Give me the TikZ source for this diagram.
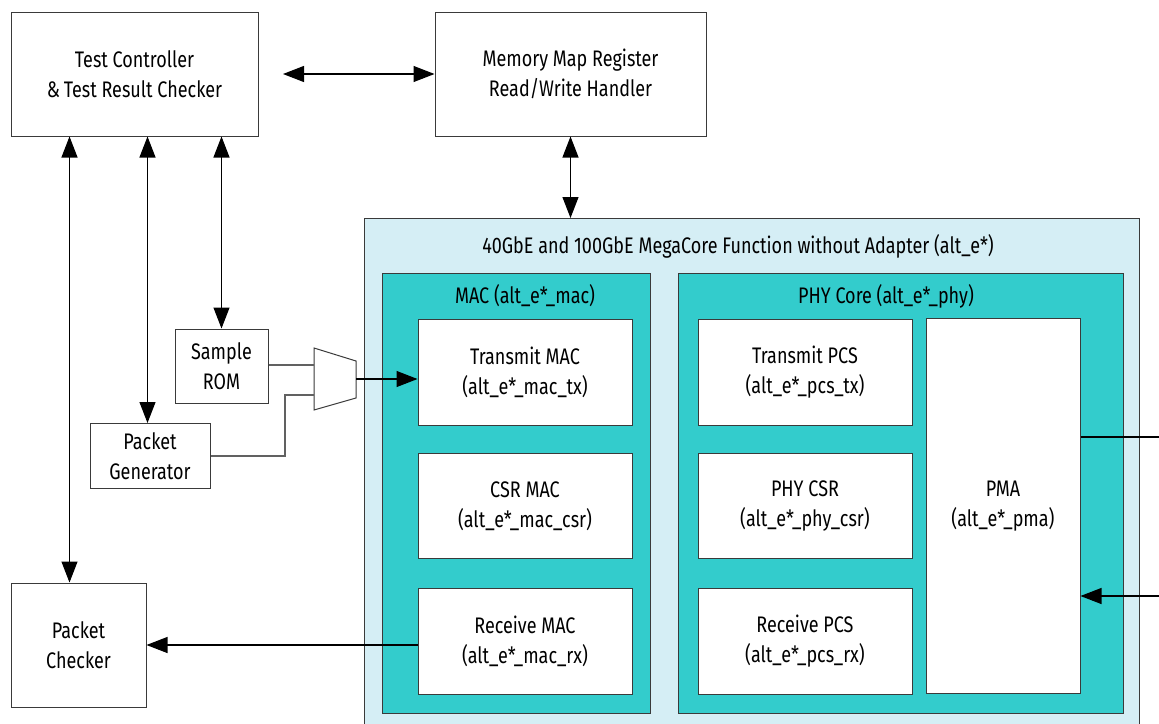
\documentclass[tikz,border=0pt]{standalone}
\usepackage{fontspec}
\setmainfont{Fira Sans}[FakeStretch=0.8]
\usetikzlibrary{arrows.meta}
\definecolor{lightblu}{HTML}{D5EEF5}
\definecolor{teal2}{HTML}{33CCCC}
\definecolor{edge}{HTML}{3A3A3A}
\tikzset{
  blk/.style={draw=edge,fill=white,line width=1pt,align=center,inner sep=0pt,
    font=\fontsize{22.5}{30}\selectfont},
  wire/.style={draw=edge!80,line width=1.2pt},
  arr/.style={line width=1.1pt,-{Triangle[length=21pt,width=16pt]}},
  dbl/.style={line width=1.1pt,{Triangle[length=21pt,width=16pt]}-{Triangle[length=21pt,width=16pt]}},
  ttl/.style={font=\fontsize{22.5}{30}\selectfont}
}
\begin{document}
\begin{tikzpicture}[x=1pt,y=-1pt]
  \useasboundingbox (0,0) rectangle (1159,723);
  % outer core and its two sub blocks
  \filldraw[fill=lightblu,draw=edge,line width=1pt] (364,218) rectangle (1139,740);
  \node[ttl] (ttlcore) at (738,246) {40GbE and 100GbE MegaCore Function without Adapter (alt\_e*)};
  \filldraw[fill=teal2,draw=edge,line width=1pt] (382,273) rectangle (650,713);
  \node[ttl] (ttlmac) at (525,296) {MAC (alt\_e*\_mac)};
  \filldraw[fill=teal2,draw=edge,line width=1pt] (678,273) rectangle (1123,713);
  \node[ttl] (ttlphy) at (886,296) {PHY Core (alt\_e*\_phy)};
  \coordinate (core) at (570.5,218);
  % blocks
  \node[blk,minimum width=247pt,minimum height=124pt] (tc) at (134.5,74) {Test Controller\\\&\,Test Result Checker};
  \node[blk,minimum width=271pt,minimum height=124pt] (mm) at (570.5,74) {Memory Map Register\\Read/Write Handler};
  \node[blk,minimum width=93pt,minimum height=74pt] (rom) at (221.5,366) {Sample\\ROM};
  \node[blk,minimum width=120pt,minimum height=65pt] (gen) at (150,456) {Packet\\Generator};
  \node[blk,minimum width=135pt,minimum height=124pt] (pc) at (78.5,645) {Packet\\Checker};
  \node[blk,minimum width=214pt,minimum height=106pt] (txmac) at (525,372) {Transmit MAC\\(alt\_e*\_mac\_tx)};
  \node[blk,minimum width=214pt,minimum height=105pt] (csrmac) at (525,506) {CSR MAC\\(alt\_e*\_mac\_csr)};
  \node[blk,minimum width=214pt,minimum height=106pt] (rxmac) at (525,641) {Receive MAC\\(alt\_e*\_mac\_rx)};
  \node[blk,minimum width=214pt,minimum height=106pt] (txpcs) at (805,372) {Transmit PCS\\(alt\_e*\_pcs\_tx)};
  \node[blk,minimum width=214pt,minimum height=105pt] (phycsr) at (805,506) {PHY CSR\\(alt\_e*\_phy\_csr)};
  \node[blk,minimum width=214pt,minimum height=106pt] (rxpcs) at (805,641) {Receive PCS\\(alt\_e*\_pcs\_rx)};
  \node[blk,minimum width=154pt,minimum height=375pt] (pma) at (1003,506) {PMA\\(alt\_e*\_pma)};
  % mux
  \coordinate (mi1) at (314,365);
  \coordinate (mi2) at (314,395);
  \coordinate (mo) at (356,379);
  \filldraw[fill=white,draw=edge,line width=1pt] (314,348) -- (356,361) -- (356,398) -- (314,410) -- cycle;
  \draw[wire] (rom.east |- mi1) -- (mi1);
  \draw[wire] (gen.east) -| (285,395) -- (mi2);
  \draw[arr] (mo) -- (txmac.west |- mo);
  % connectors
  \coordinate (tcr) at (283,74);
  \draw[dbl] (tcr) -- (mm.west);
  \draw[dbl] (mm.south) -- (core);
  \draw[dbl] ([xshift=59pt]tc.south west) -- ([xshift=59pt]pc.north west);
  \draw[dbl] ([xshift=137pt]tc.south west) -- ([xshift=58pt]gen.north west);
  \draw[dbl] ([xshift=211pt]tc.south west) -- ([xshift=47pt]rom.north west);
  \draw[arr] (rxmac.west |- pc.east) -- (pc.east);
  \coordinate (r1) at (1159,437);
  \coordinate (r2) at (1159,596);
  \draw[line width=1.1pt] (pma.east |- r1) -- (r1);
  \draw[arr] (r2) -- (pma.east |- r2);
\end{tikzpicture}
\end{document}
